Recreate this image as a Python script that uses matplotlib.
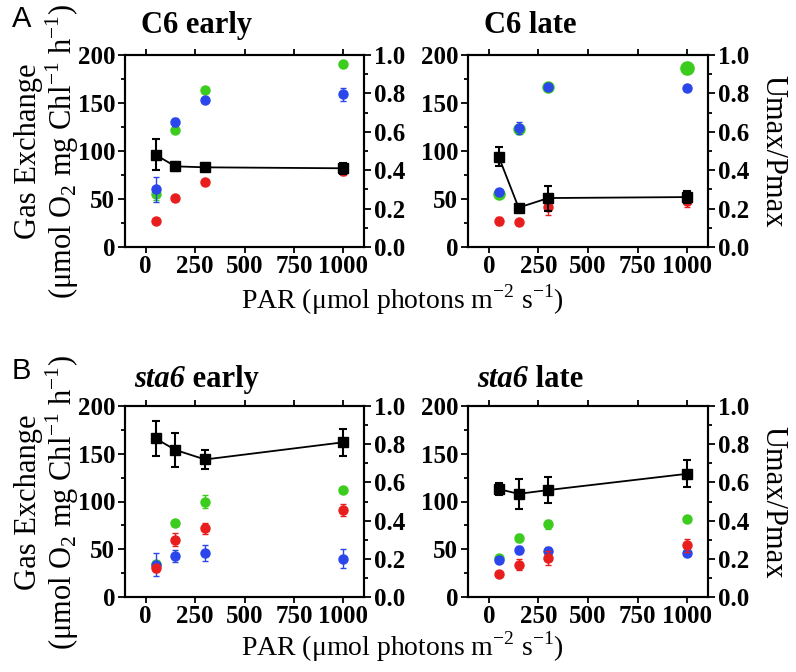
import matplotlib
matplotlib.use("Agg")
import matplotlib.pyplot as plt
from matplotlib.ticker import MultipleLocator

plt.rcParams['font.family'] = ['Liberation Serif', 'DejaVu Serif']
plt.rcParams['mathtext.fontset'] = 'custom'
plt.rcParams['mathtext.rm'] = 'Liberation Serif'

par = [50, 150, 300, 1000]

# gas exchange (left axis): green, blue, red series per panel
c6e_green = [55, 122, 164, 191]
c6e_green_err = [6, 2, 2, 2]
c6e_blue = [60, 130, 153, 159]
c6e_blue_err = [13, 4, 2, 7]
c6e_red = [27, 51, 68, 79]
c6e_red_err = [2, 2, 2, 4]
c6e_ratio = [0.48, 0.42, 0.415, 0.41]
c6e_ratio_err = [0.08, 0.025, 0.02, 0.03]

c6l_green = [55, 123, 167, 186]
c6l_green_err = [3, 3, 2, 2]
c6l_blue = [57, 124, 167, 166]
c6l_blue_err = [3, 6, 2, 2]
c6l_red = [27, 26, 42, 48]
c6l_red_err = [4, 2, 9, 6]
c6l_ratio = [0.47, 0.205, 0.255, 0.26]
c6l_ratio_err = [0.05, 0.01, 0.065, 0.03]

s6e_green = [35, 78, 100, 112]
s6e_green_err = [3, 3, 7, 2]
s6e_blue = [34, 43, 46, 40]
s6e_blue_err = [12, 6, 8, 10]
s6e_red = [30, 60, 72, 91]
s6e_red_err = [4, 7, 6, 6]
s6e_ratio = [0.83, 0.77, 0.72, 0.81]
s6e_ratio_err = [0.09, 0.09, 0.05, 0.07]

s6l_green = [41, 62, 76, 82]
s6l_green_err = [3, 4, 5, 2]
s6l_blue = [39, 49, 48, 46]
s6l_blue_err = [3, 4, 4, 3]
s6l_red = [24, 34, 41, 54]
s6l_red_err = [2, 6, 7, 7]
s6l_ratio = [0.565, 0.54, 0.56, 0.645]
s6l_ratio_err = [0.03, 0.08, 0.07, 0.07]

GREEN = '#3ccc1e'
BLUE = '#2b46ea'
RED = '#e81e1e'
TITLE_SIZE = 22


def style_axis(ax):
    for sp in ax.spines.values():
        sp.set_linewidth(1.5)
    ax.tick_params(which='both', width=1.3, labelsize=18, pad=2)
    for lab in ax.get_xticklabels() + ax.get_yticklabels():
        lab.set_fontweight('bold')


def panel(fig, rect, title, green, green_err, blue, blue_err, red, red_err,
          ratio, ratio_err, big_green=False):
    ax = fig.add_axes(rect)
    ms = [8, 8, 8, 9.5] if big_green else [6.5] * 4
    for i in range(len(par)):
        ax.errorbar(par[i], green[i], yerr=green_err[i], fmt='o', color=GREEN,
                    ms=ms[i], capsize=2, elinewidth=1, zorder=2)
    ax.errorbar(par, blue, yerr=blue_err, fmt='o', color=BLUE, ms=6.5,
                capsize=2, elinewidth=1, zorder=3)
    ax.errorbar(par, red, yerr=red_err, fmt='o', color=RED, ms=6.5,
                capsize=2, elinewidth=1, zorder=4)
    ax.set_xlim(-105, 1105)
    ax.set_ylim(0, 200)
    ax.set_xticks([0, 250, 500, 750, 1000])
    ax.set_yticks([0, 50, 100, 150, 200])
    ax.yaxis.set_minor_locator(MultipleLocator(25))
    ax.tick_params(axis='x', top=True, which='major', length=4)
    ax.tick_params(axis='y', which='minor', length=3)
    ax.tick_params(axis='y', which='major', length=5)

    ax2 = ax.twinx()
    ax2.errorbar(par, ratio, yerr=ratio_err, fmt='s-', color='black', ms=6.5,
                 lw=1.3, capsize=3, elinewidth=1.5, capthick=1.5)
    ax2.set_ylim(0, 1.0)
    ax2.set_yticks([0.0, 0.2, 0.4, 0.6, 0.8, 1.0])
    ax2.set_yticklabels(['0.0', '0.2', '0.4', '0.6', '0.8', '1.0'])
    ax2.yaxis.set_minor_locator(MultipleLocator(0.1))
    ax2.tick_params(axis='y', which='minor', length=3)
    ax2.tick_params(axis='y', which='major', length=5)
    style_axis(ax)
    style_axis(ax2)

    if title:
        ax.text(0.065, 1.115, title, transform=ax.transAxes, fontsize=TITLE_SIZE,
                fontweight='bold', va='baseline', ha='left')
    return ax


fig = plt.figure(figsize=(7.96, 6.72), dpi=100)
W, H = 796, 672


def rect(x0, y0, x1, y1):
    return [x0 / W, 1 - y1 / H, (x1 - x0) / W, (y1 - y0) / H]


panel(fig, rect(125, 55, 364, 247), 'C6 early', c6e_green, c6e_green_err,
      c6e_blue, c6e_blue_err, c6e_red, c6e_red_err, c6e_ratio, c6e_ratio_err)
panel(fig, rect(468, 55, 708, 247), 'C6 late', c6l_green, c6l_green_err,
      c6l_blue, c6l_blue_err, c6l_red, c6l_red_err, c6l_ratio, c6l_ratio_err,
      big_green=True)
axb1 = panel(fig, rect(125, 406, 364, 597), '', s6e_green, s6e_green_err,
             s6e_blue, s6e_blue_err, s6e_red, s6e_red_err, s6e_ratio, s6e_ratio_err)
axb2 = panel(fig, rect(468, 406, 708, 597), '', s6l_green, s6l_green_err,
             s6l_blue, s6l_blue_err, s6l_red, s6l_red_err, s6l_ratio, s6l_ratio_err)

for ax, word in [(axb1, 'early'), (axb2, 'late')]:
    t = ax.text(0.04, 1.1, 'sta6', transform=ax.transAxes, fontsize=TITLE_SIZE,
                fontweight='bold', style='italic', va='baseline', ha='left')
    ax.annotate(' ' + word, xycoords=t, xy=(1, 0), va='bottom', ha='left',
                fontsize=TITLE_SIZE, fontweight='bold')

# axis labels as figure text
for yc in [151, 502]:
    fig.text(29 / W, 1 - yc / H, 'Gas Exchange', rotation=90, fontsize=22,
             ha='center', va='center')
    fig.text(62 / W, 1 - yc / H, r'(μmol O$_2$ mg Chl$^{-1}$ h$^{-1}$)',
             rotation=90, fontsize=22, ha='center', va='center')
    fig.text(773 / W, 1 - yc / H, 'Umax/Pmax', rotation=270, fontsize=22,
             ha='center', va='center')
for yc in [300, 647]:
    fig.text(402 / W, 1 - yc / H, r'PAR (μmol photons m$^{-2}$ s$^{-1}$)',
             fontsize=20, ha='center', va='center')

fig.text(22 / W, 1 - 19 / H, 'A', family='Liberation Sans', fontsize=21,
         ha='center', va='center')
fig.text(21 / W, 1 - 371 / H, 'B', family='Liberation Sans', fontsize=21,
         ha='center', va='center')

fig.savefig('out.png', dpi=100)
